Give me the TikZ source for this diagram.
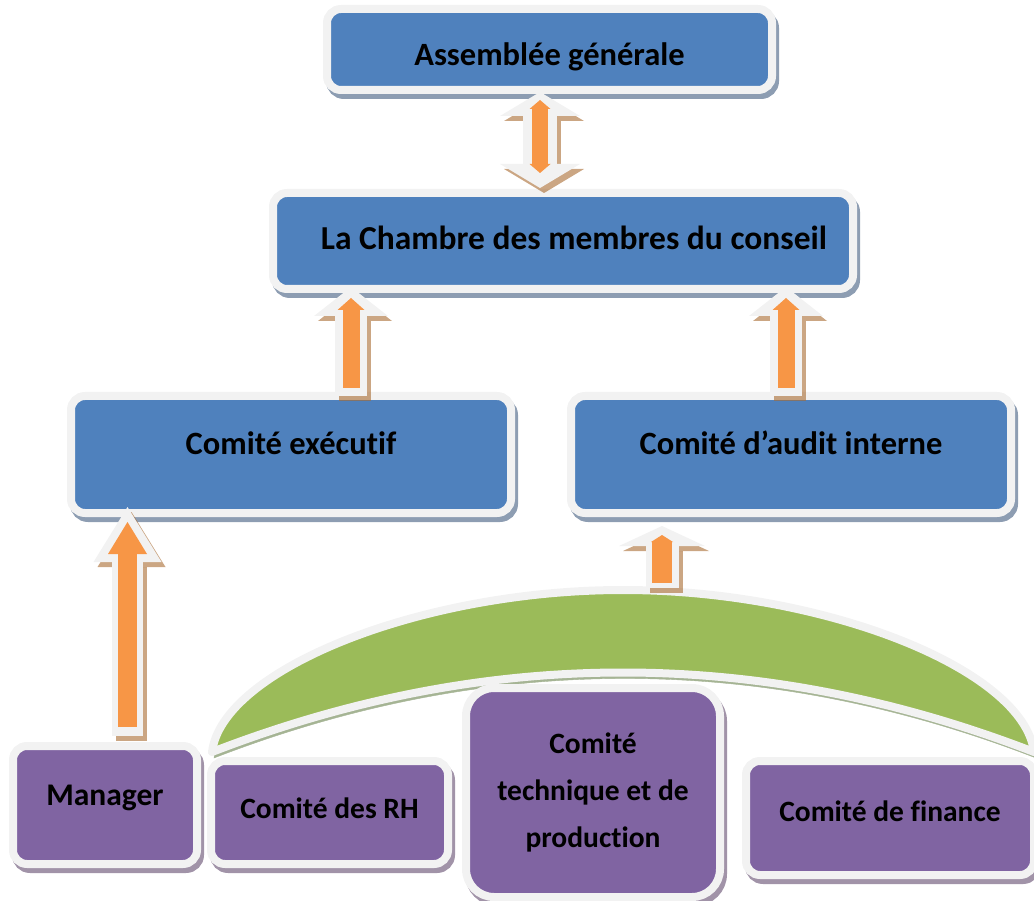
\documentclass[tikz,border=0pt]{standalone}
\usepackage{fontspec}
\setmainfont{Carlito}[Ligatures=NoCommon]
\usetikzlibrary{arrows.meta,calc}
\definecolor{boxblue}{HTML}{4F81BD}
\definecolor{boxpurple}{HTML}{8064A2}
\definecolor{umbgreen}{HTML}{9BBB59}
\definecolor{arrorange}{HTML}{F79646}
\definecolor{glow}{HTML}{F2F2F2}
\definecolor{blueshade}{HTML}{8D9DB2}
\definecolor{purpleshade}{HTML}{A193A8}
\definecolor{greenshade}{HTML}{A5B494}
\definecolor{arrshade}{HTML}{A86A30}
\tikzset{
  box/.style={draw=glow, line width=8pt, rounded corners=14pt, inner sep=0pt,
    text height=21pt, text depth=3pt, align=center,
    font=\bfseries\fontsize{32.5}{38}\selectfont},
  bluebox/.style={box, fill=boxblue,
    preaction={draw=blueshade, fill=blueshade, transform canvas={shift={(3pt,-5pt)}}}},
  purplebox/.style={box, fill=boxpurple, text height=20pt,
    font=\bfseries\fontsize{29.5}{35}\selectfont,
    preaction={draw=purpleshade, fill=purpleshade, transform canvas={shift={(3pt,-5pt)}}}},
  lift/.style={text depth=#1},
  arrshadow/.style n args={3}{draw=arrshade, opacity=.6, line width=#1,
    >={Triangle[length=#2,width=#3,line width=0pt]}, ->,
    transform canvas={shift={(4pt,-5pt)}}},
  arrglow/.style n args={3}{draw=glow, line width=#1,
    >={Triangle[length=#2,width=#3,line width=0pt]}, ->},
  arrfill/.style n args={3}{draw=arrorange, line width=#1,
    >={Triangle[length=#2,width=#3,line width=0pt]}, ->},
}
\begin{document}
\begin{tikzpicture}[x=1pt,y=-1pt]
  \useasboundingbox (0,0) rectangle (1034,901);
  %Umbrella
  \draw[draw=glow, line width=8pt, fill=umbgreen, line join=round,
    preaction={draw=greenshade, fill=greenshade, transform canvas={shift={(2pt,-6pt)}}}]
    (212,752) .. controls (222,670) and (420,590) .. (623,590)
    .. controls (826,590) and (1024,670) .. (1034,752)
    .. controls (760,646) and (486,646) .. cycle;
  \coordinate (umb) at (662,588);
  %Boxes
  \node[bluebox, minimum width=445pt, minimum height=81pt, text height=36pt] (assemblee) at (549.5,49.5) {Assemblée générale};
  \node[bluebox, minimum width=580pt, minimum height=96pt, font=\bfseries\fontsize{33.5}{38}\selectfont] (chambre) at (563,241) {\hspace*{22pt}La Chambre des membres du conseil};
  \node[bluebox, minimum width=440pt, minimum height=117pt, lift=22pt] (executif) at (291,454.5) {Comité exécutif};
  \node[bluebox, minimum width=440pt, minimum height=117pt, lift=22pt] (audit) at (791,454.5) {Comité d’audit interne};
  \node[purplebox, minimum width=184pt, minimum height=118pt, lift=20pt, font=\bfseries\fontsize{31.5}{35}\selectfont] (manager) at (105,805) {Manager};
  \node[purplebox, minimum width=237pt, minimum height=103pt, lift=9pt] (rh) at (329.5,812.5) {Comité des RH};
  \node[purplebox, minimum width=254pt, minimum height=209pt, rounded corners=28pt, text height={}, text depth={},
    font=\bfseries\fontsize{29.5}{47}\selectfont] (technique) at (593,792.5) {Comité\\technique et de\\production};
  \node[purplebox, minimum width=288pt, minimum height=114pt, lift=14pt] (finance) at (890,818) {Comité de finance};
  %Arrows
  \draw[arrshadow={34pt}{24pt}{80pt}, <->] ($(assemblee.south)+(-9.5,-2)$) -- ($(chambre.north)+(-23,-1)$);
  \draw[arrglow={34pt}{24pt}{80pt}, <->] ($(assemblee.south)+(-9.5,-2)$) -- ($(chambre.north)+(-23,-1)$);
  \draw[arrfill={16pt}{9pt}{21pt}, <->] ($(assemblee.south)+(-9.5,6)$) -- ($(chambre.north)+(-23,-16)$);

  \draw[arrshadow={32pt}{29pt}{74pt}] ($(executif.north)+(60,4)$) -- ($(chambre.south)+(-212,-6)$);
  \draw[arrglow={32pt}{29pt}{74pt}] ($(executif.north)+(60,4)$) -- ($(chambre.south)+(-212,-6)$);
  \draw[arrfill={17pt}{12pt}{27pt}] ($(executif.north)+(60,-4)$) -- ($(chambre.south)+(-212,5)$);

  \draw[arrshadow={32pt}{29pt}{74pt}] ($(audit.north)+(-5,4)$) -- ($(chambre.south)+(223,-6)$);
  \draw[arrglow={32pt}{29pt}{74pt}] ($(audit.north)+(-5,4)$) -- ($(chambre.south)+(223,-6)$);
  \draw[arrfill={17pt}{12pt}{27pt}] ($(audit.north)+(-5,-4)$) -- ($(chambre.south)+(223,5)$);

  \draw[arrshadow={31pt}{55pt}{68pt}] ($(manager.north)+(22.5,-6)$) -- ($(executif.south)+(-163.5,-10)$);
  \draw[arrglow={31pt}{55pt}{68pt}] ($(manager.north)+(22.5,-6)$) -- ($(executif.south)+(-163.5,-10)$);
  \draw[arrfill={19pt}{32pt}{39pt}] ($(manager.north)+(22.5,-15)$) -- ($(executif.south)+(-163.5,5)$);

  \draw[arrshadow={33pt}{20pt}{86pt}] (umb) -- ($(audit.south)+(-129,9)$);
  \draw[arrglow={33pt}{20pt}{86pt}] (umb) -- ($(audit.south)+(-129,9)$);
  \draw[arrfill={20pt}{7pt}{22pt}] ($(umb)+(0,-5)$) -- ($(audit.south)+(-129,18)$);
\end{tikzpicture}
\end{document}
